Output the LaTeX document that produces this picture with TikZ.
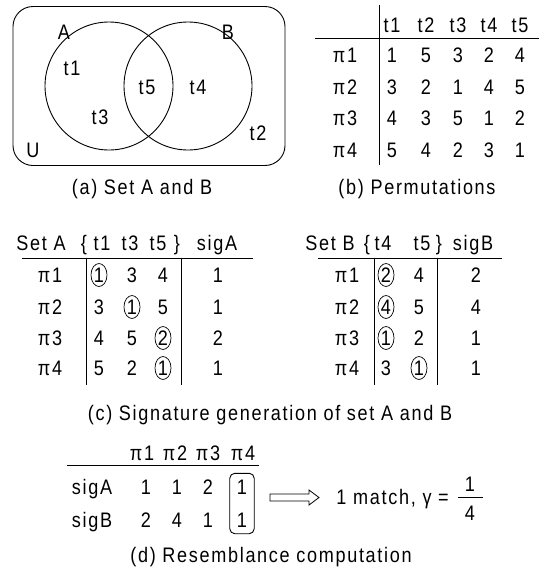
\documentclass[tikz,border=0pt]{standalone}
\usepackage{fontspec}
\newfontfamily\figfont{Liberation Sans}[FakeStretch=0.86,LetterSpace=8]
\usetikzlibrary{fit,shapes.geometric}
\begin{document}
\begin{tikzpicture}[x=1pt,y=-1pt,
  every node/.style={font=\figfont\fontsize{21}{25}\selectfont, inner sep=0pt, text height=15pt, text depth=0pt},
  ln/.style={line width=0.9pt},
  circ/.style={draw, ellipse, line width=0.7pt, minimum width=16pt, minimum height=23pt},
]
\useasboundingbox (0,0) rectangle (543,568);

% ---------- (a) Venn diagram
\node[draw, ln, rounded corners=20pt, minimum width=272pt, minimum height=159pt] (frame) at (149,86) {};
\node[draw, ln, circle, minimum size=128pt] (cA) at (109,86) {};
\node[draw, ln, circle, minimum size=128pt] (cB) at (188,86) {};
\node (lA) at (64,32) {A};
\node (lB) at (228,32) {B};
\node (t1) at (72,68) {t1};
\node (t5) at (147,87) {t5};
\node (t4) at (198,87) {t4};
\node (t3) at (100,117) {t3};
\node (t2) at (258,133) {t2};
\node (lU) at (33,150) {U};
\node (capa) at (142,187) {(a) Set A and B};

% ---------- (b) Permutations
\draw[ln] (379,5) -- (379,165);
\draw[ln] (315,38) -- (539,38);
\foreach \x/\t in {392/t1,426/t2,458/t3,489/t4,520/t5} \node (bh\t) at (\x,25) {\t};
\foreach \y/\p/\row in {55/1/{392/1,426/5,458/3,489/2,520/4},
                        87/2/{392/3,426/2,458/1,489/4,520/5},
                        118/3/{392/4,426/3,458/5,489/1,520/2},
                        150/4/{392/5,426/4,458/2,489/3,520/1}} {
  \node (bl\p) at (345,\y) {π\p};
  \foreach \x/\v in \row \node (b\p-\x) at (\x,\y) {\v};
}
\node (capb) at (417,187) {(b) Permutations};

% ---------- (c) left: set A
\node (hA) at (41,243) {Set A};
\node (hAo) at (84,243) {\{};
\node (hAt1) at (102,243) {t1};
\node (hAt3) at (130,243) {t3};
\node (hAt5) at (158,243) {t5};
\node (hAc) at (177,243) {\}};
\node (hAs) at (217,243) {sigA};
\draw[ln] (22,258) -- (253,258);
\draw[ln] (86,258) -- (86,385);
\draw[ln] (181,258) -- (181,385);
\foreach \y/\p/\s in {275/1/1, 307/2/1, 338/3/2, 368/4/1} {
  \node (al\p) at (50,\y) {π\p};
  \node (as\p) at (218,\y) {\s};
}
\node[circ] (a11) at (99,275) {1};  \node (a12) at (132,275) {3};  \node (a13) at (163,275) {4};
\node (a21) at (99,307) {3};  \node[circ] (a22) at (132,307) {1};  \node (a23) at (163,307) {5};
\node (a31) at (99,338) {4};  \node (a32) at (132,338) {5};  \node[circ] (a33) at (163,338) {2};
\node (a41) at (99,368) {5};  \node (a42) at (132,368) {2};  \node[circ] (a43) at (163,368) {1};

% ---------- (c) right: set B
\node (hB) at (330,243) {Set B};
\node (hBo) at (367,243) {\{};
\node (hBt4) at (383,243) {t4};
\node (hBt5) at (422,243) {t5};
\node (hBc) at (439,243) {\}};
\node (hBs) at (473,243) {sigB};
\draw[ln] (318,258) -- (502,258);
\draw[ln] (374,258) -- (374,385);
\draw[ln] (437,258) -- (437,385);
\foreach \y/\p/\s in {275/1/2, 307/2/4, 338/3/1, 368/4/1} {
  \node (bbl\p) at (347,\y) {π\p};
  \node (bbs\p) at (476,\y) {\s};
}
\node[circ] (c11) at (386,275) {2};  \node (c12) at (419,275) {4};
\node[circ] (c21) at (386,307) {4};  \node (c22) at (419,307) {5};
\node[circ] (c31) at (386,338) {1};  \node (c32) at (419,338) {2};
\node (c41) at (386,368) {3};  \node[circ] (c42) at (419,368) {1};

\node (capc) at (270,413) {(c) Signature generation of set A and B};

% ---------- (d) Resemblance
\foreach \x/\p in {142/1,175/2,208/3,243/4} \node (dh\p) at (\x,453) {π\p};
\draw[ln] (67,465) -- (259,465);
\node (dA) at (92,487) {sigA};
\node (dB) at (92,520) {sigB};
\foreach \x/\v/\w [count=\i] in {146/1/2,177/1/4,208/2/1,242/1/1} {
  \node (dA\i) at (\x,487) {\v};
  \node (dB\i) at (\x,520) {\w};
}
\node[draw, ln, rounded corners=5pt, fit=(dA4)(dB4), inner xsep=7pt, inner ysep=6pt] (dbox) {};
\draw[line width=0.8pt] (270,494) -- (309,494) -- (309,490) -- (319,497.5) -- (309,505) -- (309,501) -- (270,501) -- cycle;
\node[anchor=east] (match) at (449,497) {1 match, γ =};
\node (f1) at (470,484) {1};
\node (f4) at (470,513) {4};
\draw[ln] (458,497) -- (483,497);
\node (capd) at (271,555) {(d) Resemblance computation};
\end{tikzpicture}
\end{document}
